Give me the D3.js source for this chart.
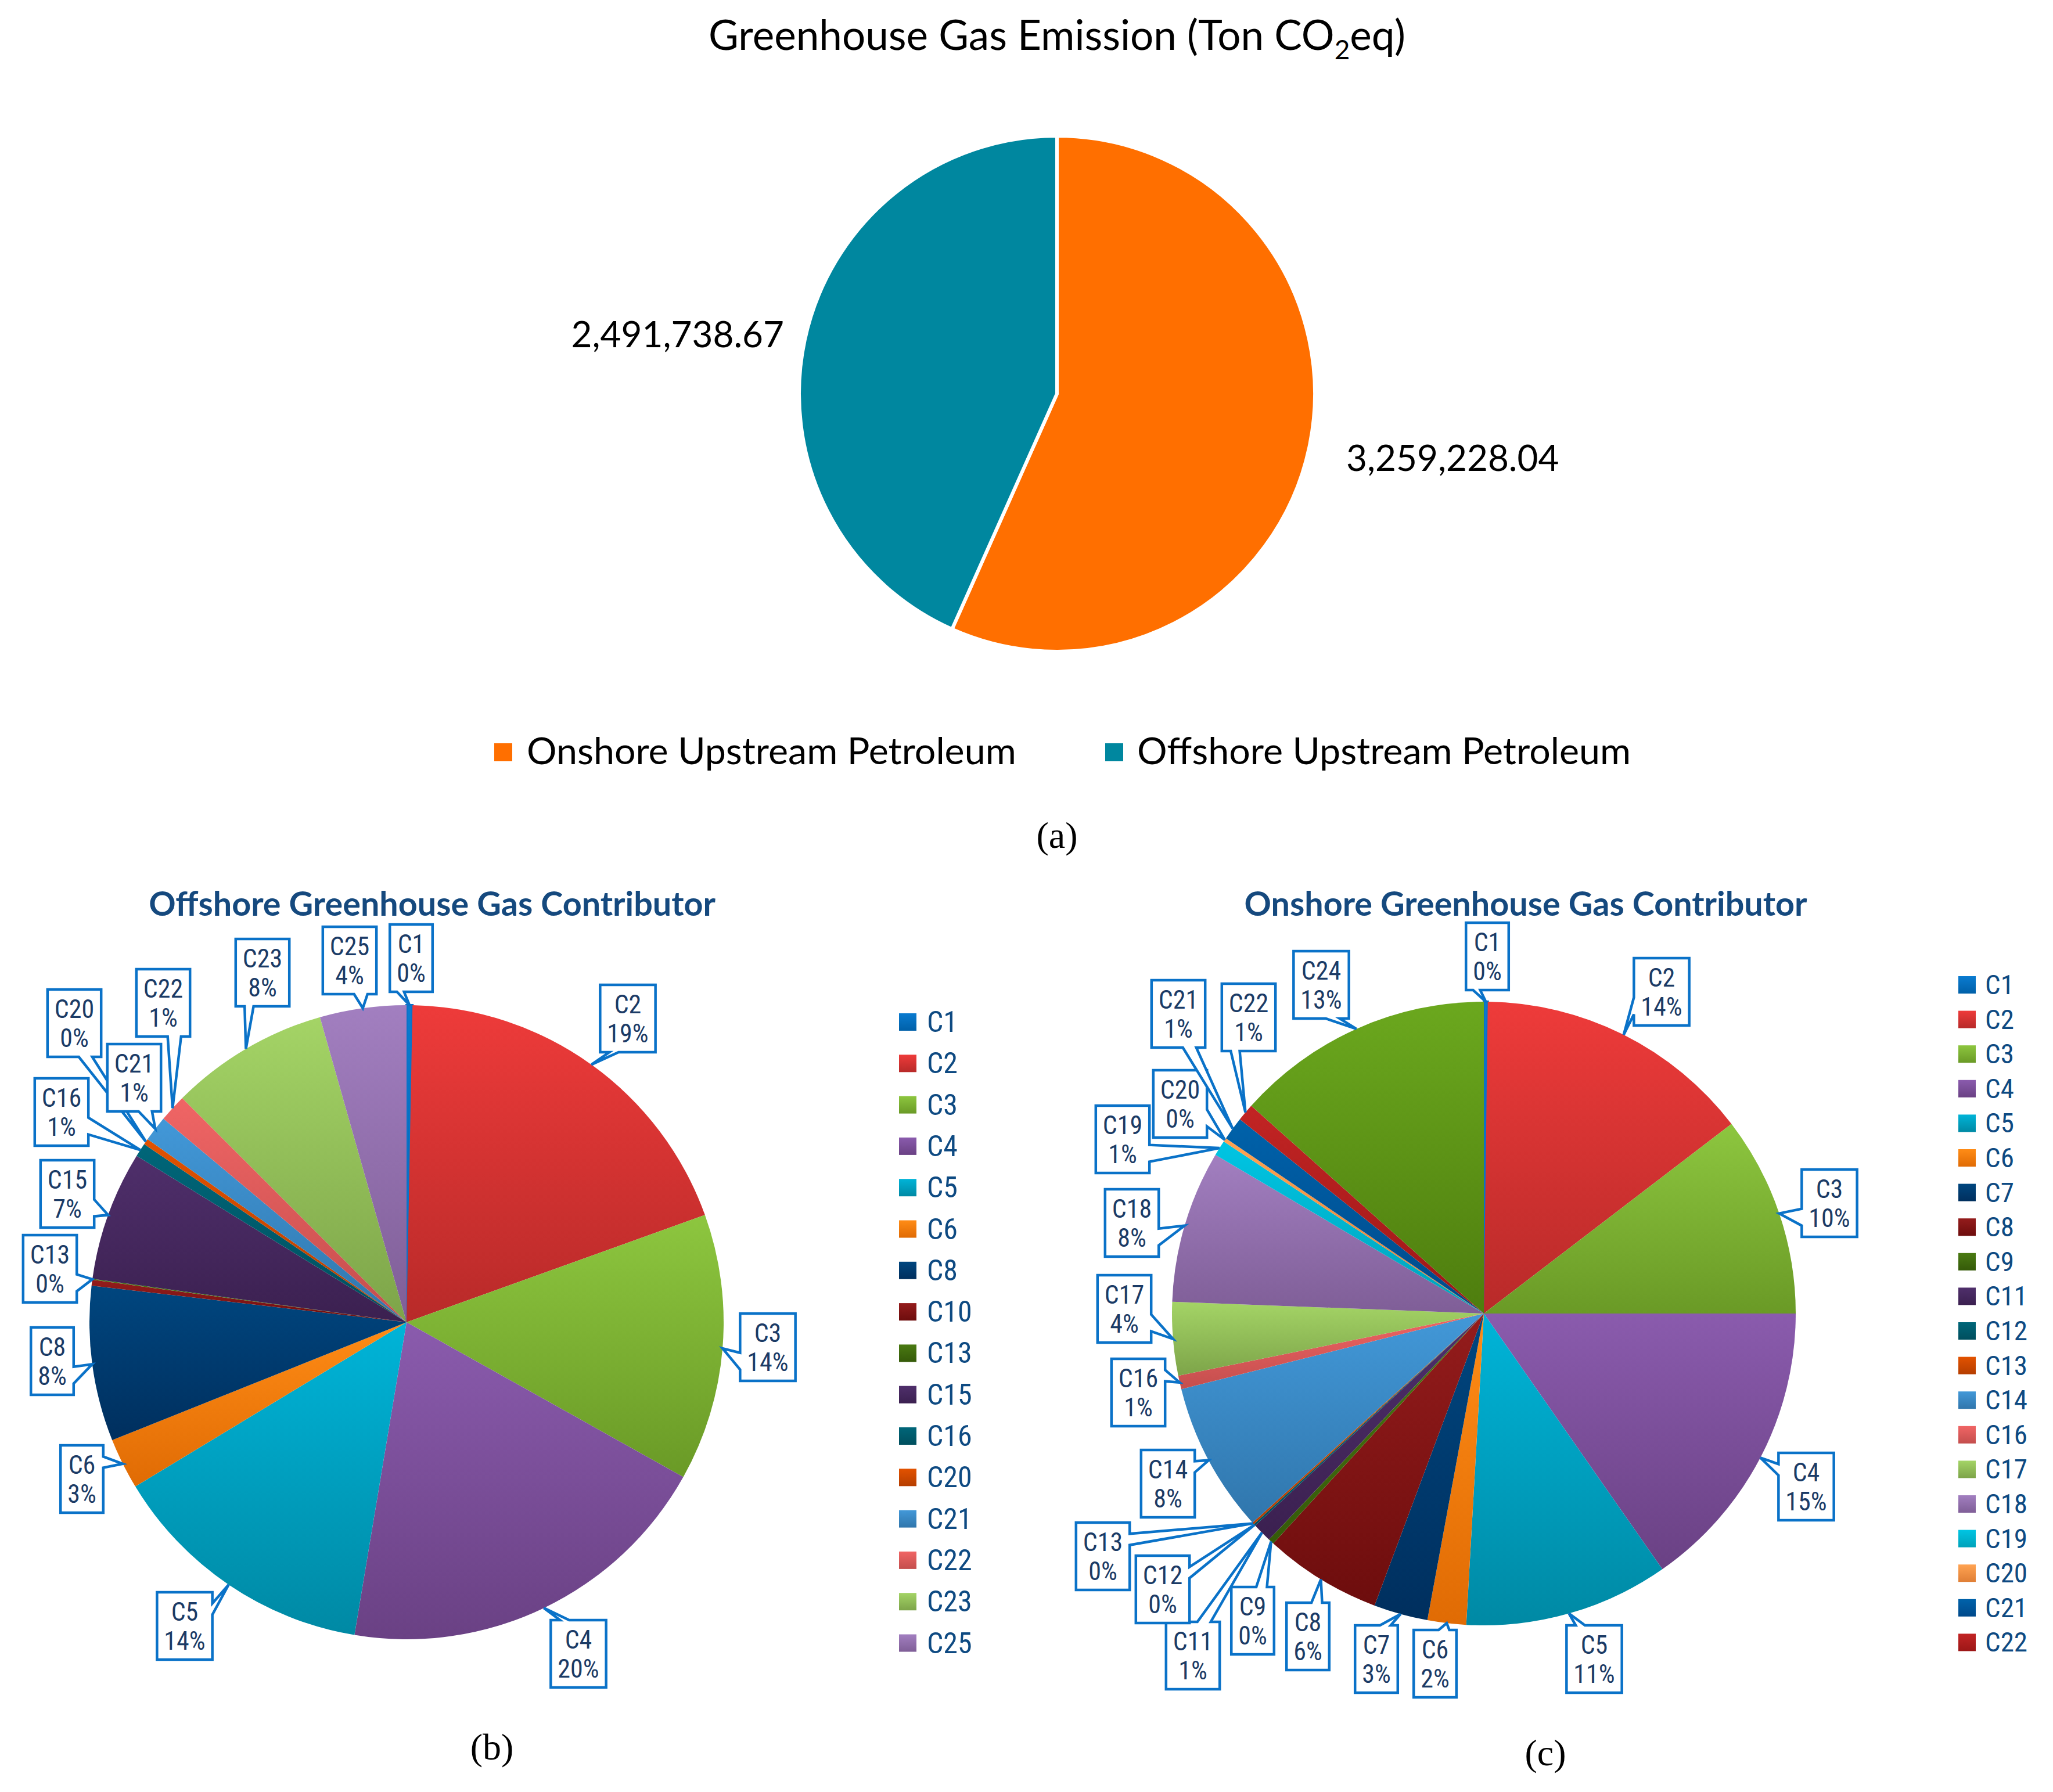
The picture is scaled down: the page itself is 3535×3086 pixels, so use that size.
<!DOCTYPE html>
<html>
<head>
<meta charset="utf-8">
<script src="https://cdn.jsdelivr.net/npm/d3@7"></script>
<style>
  html, body { margin: 0; padding: 0; background: #ffffff; }
  svg { display: block; }
</style>
</head>
<body>
<svg id="chart" width="3535" height="3086"></svg>
<script>
// ---------------- DATA ----------------
const topCategories = ["Onshore Upstream Petroleum", "Offshore Upstream Petroleum"];
const topValues = [3259228.04, 2491738.67];
const topColors = ["#FF6F00", "#00879F"];

const offshoreCategories = ["C1","C2","C3","C4","C5","C6","C8","C10","C13","C15","C16","C20","C21","C22","C23","C25"];
const offshoreValues     = [0.3, 19.2, 13.6, 19.5, 13.7, 2.6, 7.9, 0.3, 0.05, 6.6, 0.7, 0.3, 1.3, 1.4, 8.1, 4.4];
const offshoreUnlabeled  = ["C10"];

const onshoreCategories = ["C1","C2","C3","C4","C5","C6","C7","C8","C9","C11","C12","C13","C14","C16","C17","C18","C19","C20","C21","C22","C24"];
const onshoreValues     = [0.2, 14.4, 10.4, 15.3, 10.6, 2.0, 2.8, 6.1, 0.3, 1.0, 0.1, 0.1, 7.8, 0.7, 3.8, 7.9, 0.8, 0.2, 1.2, 0.9, 13.4];
const onshoreLegendCount = 20; // legend in the source is cut after C22

// series palette (top, bottom of gradient), assigned by position in series
const palette = [
  ["#0A7BD0","#0060A8"], ["#EE3B3A","#B82A29"], ["#8DC63F","#6A9A26"], ["#8A5BAD","#6A4184"],
  ["#00B4D8","#0089A4"], ["#FF8C16","#E06B04"], ["#00467F","#002F5E"], ["#941C1C","#6D0D0D"],
  ["#4A7A12","#355A09"], ["#4F2F6B","#3B2050"], ["#006679","#004F5E"], ["#E25200","#B53E00"],
  ["#4298D8","#3076AC"], ["#F06565","#C44E4D"], ["#A4D466","#7DA449"], ["#A27FC0","#7F5E97"],
  ["#00C5E3","#00A2BA"], ["#FFA352","#E07F36"], ["#0062AA","#00498A"], ["#C22424","#9C1717"],
  ["#6BA81E","#4E7D0E"]
];

// ---------------- LAYOUT ----------------
const FONT = "'Liberation Sans Narrow', 'Roboto Condensed', 'Open Sans', sans-serif";
const FONT2 = "Lato, 'Open Sans', sans-serif";
const layout = {
  a: { cx: 1820, cy: 678, r: 444 },
  b: { cx: 700, cy: 2277, r: 546, titleX: 744, titleY: 1577, title: "Offshore Greenhouse Gas Contributor",
       legendSqX: 1548, legendTextX: 1596, legendY0: 1760, legendStep: 71.3, legendFont: 50,
       capX: 847, capY: 3030, cap: "(b)" },
  c: { cx: 2555, cy: 2262, r: 537, titleX: 2627, titleY: 1577, title: "Onshore Greenhouse Gas Contributor",
       legendSqX: 3372, legendTextX: 3418, legendY0: 1696, legendStep: 59.6, legendFont: 47,
       capX: 2661, capY: 3040, cap: "(c)" }
};
// callout box centres
const offshoreLabelPos = {
  C1:[708,1650], C2:[1081,1754], C3:[1322,2320], C4:[996,2848], C5:[318,2800], C6:[141,2547],
  C8:[90,2344], C13:[86,2185], C15:[116,2056], C16:[106,1915], C20:[128,1762], C21:[231,1856],
  C22:[281,1727], C23:[452,1675], C25:[602,1654]
};
const onshoreLabelPos = {
  C1:[2561,1647], C2:[2861,1708], C3:[3150,2072], C4:[3110,2560], C5:[2745,2857], C6:[2471,2865],
  C7:[2370,2857], C8:[2252,2818], C9:[2157,2791], C11:[2054,2851], C12:[2002,2737], C13:[1899,2680],
  C14:[2011,2555], C16:[1960,2398], C17:[1936,2254], C18:[1949,2106], C19:[1933,1962], C20:[2032,1901],
  C21:[2029,1746], C22:[2150,1752], C24:[2275,1696]
};

const svg = d3.select("#chart");
svg.append("rect").attr("width", 3535).attr("height", 3086).attr("fill", "#fff");
const defs = svg.append("defs");
palette.forEach((p, i) => {
  const g = defs.append("linearGradient").attr("id", "grad" + i)
    .attr("x1", 0).attr("y1", 0).attr("x2", 0).attr("y2", 1);
  g.append("stop").attr("offset", "0%").attr("stop-color", p[0]);
  g.append("stop").attr("offset", "100%").attr("stop-color", p[1]);
});

// ---------------- (a) top pie ----------------
{
  const L = layout.a;
  svg.append("text").attr("x", 1820).attr("y", 86).attr("text-anchor", "middle")
    .attr("font-family", FONT2).attr("font-size", 71).attr("fill", "#000")
    .call(t => {
      t.append("tspan").text("Greenhouse Gas Emission (Ton CO");
      t.append("tspan").attr("font-size", 46).attr("dy", 16).text("2");
      t.append("tspan").attr("dy", -16).text("eq)");
    });

  const pie = d3.pie().sort(null).value(d => d.v);
  const data = topCategories.map((c, i) => ({ c, v: topValues[i], col: topColors[i] }));
  const arcs = pie(data);
  const arc = d3.arc().innerRadius(0).outerRadius(L.r);
  const g = svg.append("g").attr("transform", `translate(${L.cx},${L.cy})`);
  g.selectAll("path").data(arcs).join("path")
    .attr("d", arc).attr("fill", d => d.data.col)
    .attr("stroke", "#fff").attr("stroke-width", 6).attr("stroke-linejoin", "round");

  const fmt = d3.format(",.2f");
  // value labels
  svg.append("text").attr("x", 2318).attr("y", 811).attr("font-family", FONT2).attr("font-size", 62)
    .attr("fill", "#000").text(fmt(topValues[0]));
  svg.append("text").attr("x", 1350).attr("y", 598).attr("text-anchor", "end").attr("font-family", FONT2)
    .attr("font-size", 62).attr("fill", "#000").text(fmt(topValues[1]));

  // legend
  const legX = [851, 1903], legTX = [907, 1958];
  topCategories.forEach((c, i) => {
    svg.append("rect").attr("x", legX[i]).attr("y", 1280).attr("width", 31).attr("height", 31).attr("fill", topColors[i]);
    svg.append("text").attr("x", legTX[i]).attr("y", 1316).attr("font-family", FONT2).attr("font-size", 64.5)
      .attr("fill", "#000").text(c);
  });
  svg.append("text").attr("x", 1820).attr("y", 1460).attr("text-anchor", "middle")
    .attr("font-family", "'Liberation Serif', 'DejaVu Serif', serif").attr("font-size", 64).attr("fill", "#000").text("(a)");
}

// ---------------- callout helper ----------------
function calloutPath(l, t, w, h, tx, ty) {
  const cx = l + w / 2, cy = t + h / 2, dx = tx - cx, dy = ty - cy, r = l + w, b = t + h;
  let pts;
  if (Math.abs(dy * w) > Math.abs(dx * h)) {
    const xa = dx < 0 ? l + w * 2 / 12 : l + w * 7 / 12, xb = dx < 0 ? l + w * 4 / 12 : l + w * 10 / 12;
    if (dy < 0) pts = [[l, t], [xa, t], [tx, ty], [xb, t], [r, t], [r, b], [l, b]];
    else pts = [[l, t], [r, t], [r, b], [xb, b], [tx, ty], [xa, b], [l, b]];
  } else {
    const ya = dy < 0 ? t + h * 2 / 12 : t + h * 7 / 12, yb = dy < 0 ? t + h * 4 / 12 : t + h * 10 / 12;
    if (dx < 0) pts = [[l, t], [r, t], [r, b], [l, b], [l, yb], [tx, ty], [l, ya]];
    else pts = [[l, t], [r, t], [r, ya], [tx, ty], [r, yb], [r, b], [l, b]];
  }
  return "M" + pts.map(p => p.join(",")).join("L") + "Z";
}

// ---------------- (b),(c) contributor pies ----------------
function contributorPie(L, cats, vals, labelPos, unlabeled, legendCount) {
  const total = d3.sum(vals);
  const data = cats.map((c, i) => ({ c, v: vals[i], idx: i }));
  const pie = d3.pie().sort(null).value(d => d.v);
  const arcs = pie(data);
  const arc = d3.arc().innerRadius(0).outerRadius(L.r);

  svg.append("text").attr("x", L.titleX).attr("y", L.titleY).attr("text-anchor", "middle")
    .attr("font-family", FONT2).attr("font-weight", "bold").attr("font-size", 57.5)
    .attr("fill", "#15497E").text(L.title);

  const g = svg.append("g").attr("transform", `translate(${L.cx},${L.cy})`);
  g.selectAll("path").data(arcs).join("path")
    .attr("d", arc).attr("fill", d => `url(#grad${d.data.idx})`)
    .attr("stroke", d => d.data.idx === 0 ? "#0A72C8" : "none").attr("stroke-width", 4);

  // callouts
  const lg = svg.append("g");
  arcs.forEach(a => {
    const c = a.data.c;
    if (unlabeled.includes(c) || !labelPos[c]) return;
    const mid = (a.startAngle + a.endAngle) / 2;
    const tx = L.cx + L.r * Math.sin(mid), ty = L.cy - L.r * Math.cos(mid);
    const pct = Math.round(a.data.v / total * 100) + "%";
    const grp = lg.append("g");
    const t1 = grp.append("text").attr("font-family", FONT).attr("font-size", 44).attr("fill", "#1B3B66")
      .attr("text-anchor", "middle").text(c);
    const t2 = grp.append("text").attr("font-family", FONT).attr("font-size", 44).attr("fill", "#1B3B66")
      .attr("text-anchor", "middle").text(pct);
    const tw = Math.max(t1.node().getComputedTextLength(), t2.node().getComputedTextLength());
    const w = tw + 24, h = 116;
    const [bx, by] = labelPos[c];
    const l = bx - w / 2, t = by - h / 2;
    grp.insert("path", "text").attr("d", calloutPath(l, t, w, h, tx, ty))
      .attr("fill", "#fff").attr("stroke", "#0A72C8").attr("stroke-width", 4.5).attr("stroke-linejoin", "miter");
    t1.attr("x", bx).attr("y", t + h * 0.42);
    t2.attr("x", bx).attr("y", t + h * 0.85);
  });

  // legend
  const leg = svg.append("g");
  data.slice(0, legendCount).forEach((d, i) => {
    const y = L.legendY0 + i * L.legendStep;
    leg.append("rect").attr("x", L.legendSqX).attr("y", y - 15).attr("width", 30).attr("height", 30)
      .attr("fill", `url(#grad${d.idx})`);
    leg.append("text").attr("x", L.legendTextX).attr("y", y + L.legendFont * 0.34)
      .attr("font-family", FONT).attr("font-size", L.legendFont).attr("fill", "#0E4A82").text(d.c);
  });

  svg.append("text").attr("x", L.capX).attr("y", L.capY).attr("text-anchor", "middle")
    .attr("font-family", "'Liberation Serif', 'DejaVu Serif', serif").attr("font-size", 64).attr("fill", "#000").text(L.cap);
}

contributorPie(layout.b, offshoreCategories, offshoreValues, offshoreLabelPos, offshoreUnlabeled, offshoreCategories.length);
contributorPie(layout.c, onshoreCategories, onshoreValues, onshoreLabelPos, [], onshoreLegendCount);
</script>
</body>
</html>
